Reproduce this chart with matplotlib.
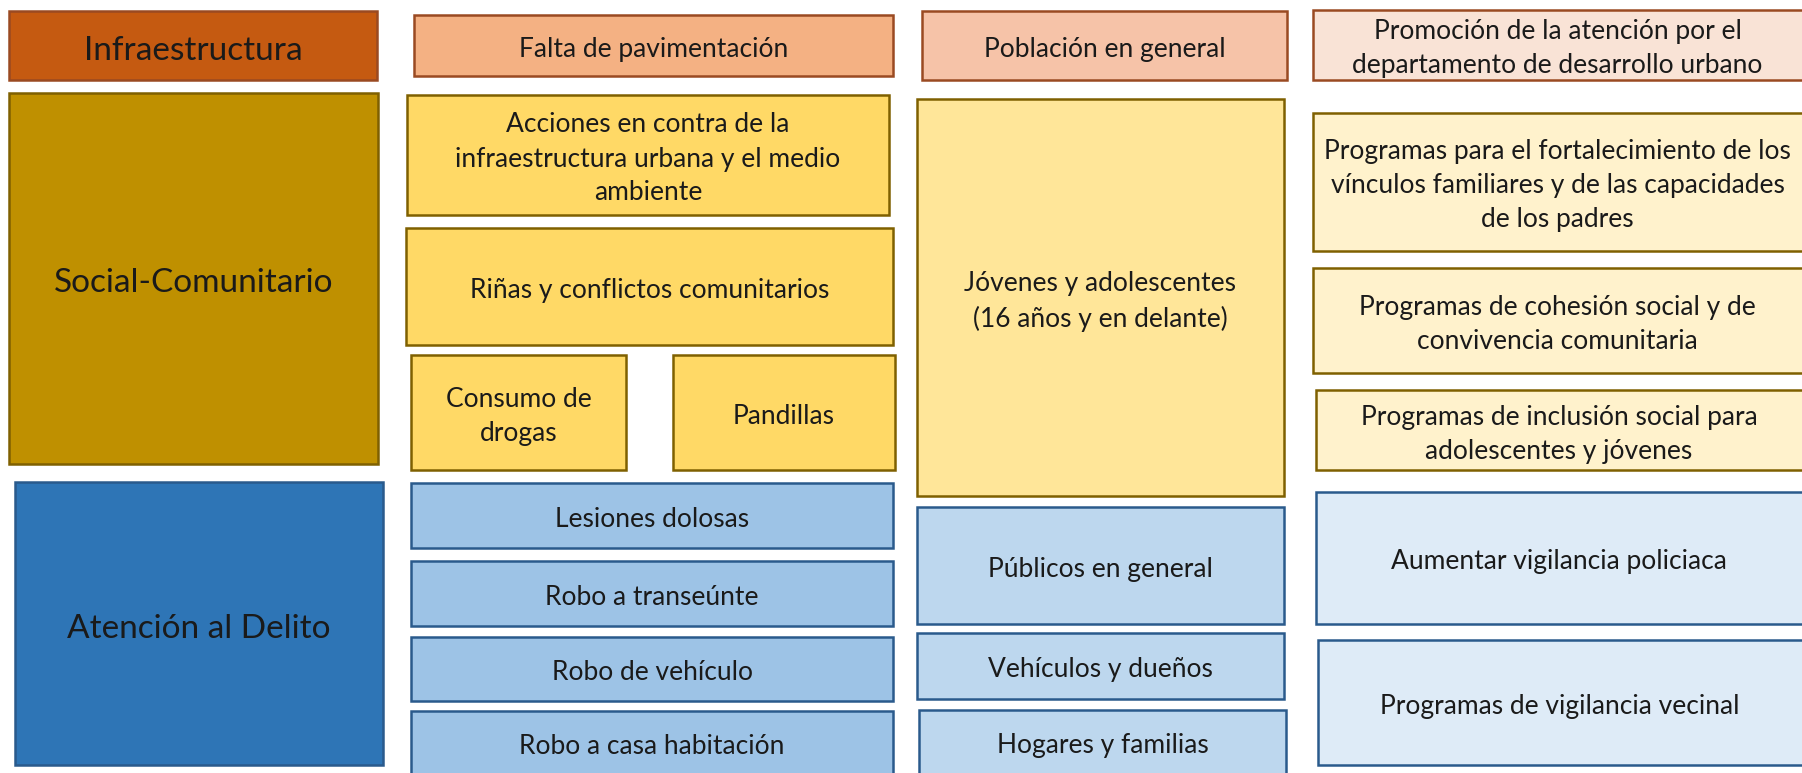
import matplotlib
matplotlib.use("Agg")
import matplotlib.pyplot as plt
from matplotlib.patches import Rectangle

plt.rcParams['font.family'] = ['Lato', 'DejaVu Sans']

# ---- data (text content) ----
categories = ["Infraestructura", "Social-Comunitario", "Atención al Delito"]
problems = [
    "Falta de pavimentación",
    "Acciones en contra de la\ninfraestructura urbana y el medio\nambiente",
    "Riñas y conflictos comunitarios",
    "Consumo de\ndrogas",
    "Pandillas",
    "Lesiones dolosas",
    "Robo a transeúnte",
    "Robo de vehículo",
    "Robo a casa habitación",
]
populations = [
    "Población en general",
    "Jóvenes y adolescentes\n(16 años y en delante)",
    "Públicos en general",
    "Vehículos y dueños",
    "Hogares y familias",
]
actions = [
    "Promoción de la atención por el\ndepartamento de desarrollo urbano",
    "Programas para el fortalecimiento de los\nvínculos familiares y de las capacidades\nde los padres",
    "Programas de cohesión social y de\nconvivencia comunitaria",
    "Programas de inclusión social para\nadolescentes y jóvenes",
    "Aumentar vigilancia policiaca",
    "Programas de vigilancia vecinal",
]

# ---- layout (pixel boxes: x0, x1, y0, y1) ----
cat_boxes = [(9, 377, 11, 80), (9, 378, 93, 464), (15, 383, 482, 765)]
prob_boxes = [(414, 893, 15, 76), (407, 889, 95, 215), (406, 893, 228, 345),
              (411, 626, 355, 470), (673, 895, 355, 470),
              (411, 893, 483, 548), (411, 893, 561, 626), (411, 893, 637, 701),
              (411, 893, 711, 790)]
pop_boxes = [(922, 1287, 11, 80), (917, 1284, 99, 496), (917, 1284, 507, 624),
             (917, 1284, 633, 699), (919, 1286, 710, 790)]
act_boxes = [(1313, 1815, 10, 80), (1313, 1815, 113, 251), (1313, 1815, 268, 373),
             (1316, 1815, 390, 470), (1316, 1815, 492, 624), (1318, 1815, 640, 765)]

# styles
ORANGE_EDGE = "#9A4A22"
GOLD_EDGE = "#7F6000"
BLUE_EDGE = "#2A5A8C"
cat_styles = [("#C55A11", ORANGE_EDGE), ("#BF9000", GOLD_EDGE), ("#2E75B6", BLUE_EDGE)]
prob_styles = [("#F4B183", ORANGE_EDGE)] + [("#FFD966", GOLD_EDGE)] * 4 + [("#9DC3E6", BLUE_EDGE)] * 4
pop_styles = [("#F6C3A8", ORANGE_EDGE), ("#FFE699", GOLD_EDGE)] + [("#BDD7EE", BLUE_EDGE)] * 3
act_styles = [("#F9E3D6", ORANGE_EDGE)] + [("#FFF2CC", GOLD_EDGE)] * 3 + [("#DEEBF7", BLUE_EDGE)] * 2

W, H = 1802, 773
fig = plt.figure(figsize=(W / 100, H / 100), dpi=100)
ax = fig.add_axes([0, 0, 1, 1])
ax.set_xlim(0, W)
ax.set_ylim(H, 0)
ax.axis("off")


def draw(boxes, labels, styles, fs, dy=4):
    for (x0, x1, y0, y1), lab, (fc, ec) in zip(boxes, labels, styles):
        ax.add_patch(Rectangle((x0, y0), x1 - x0, y1 - y0, facecolor=fc,
                               edgecolor=ec, linewidth=1.8, zorder=2))
        yc = (y0 + min(y1, H)) / 2 if y1 > H else (y0 + y1) / 2
        xc = (x0 + min(x1, W)) / 2 if x1 > W else (x0 + x1) / 2
        ax.text(xc, yc + dy, lab, ha="center", va="center", fontsize=fs,
                color="#1a1a1a", linespacing=1.45, zorder=3)


draw(cat_boxes, categories, cat_styles, 24, dy=5)
draw(prob_boxes, problems, prob_styles, 19)
draw(pop_boxes, populations, pop_styles, 19)
draw(act_boxes, actions, act_styles, 19)

fig.savefig("out.png", dpi=100, facecolor="white")
